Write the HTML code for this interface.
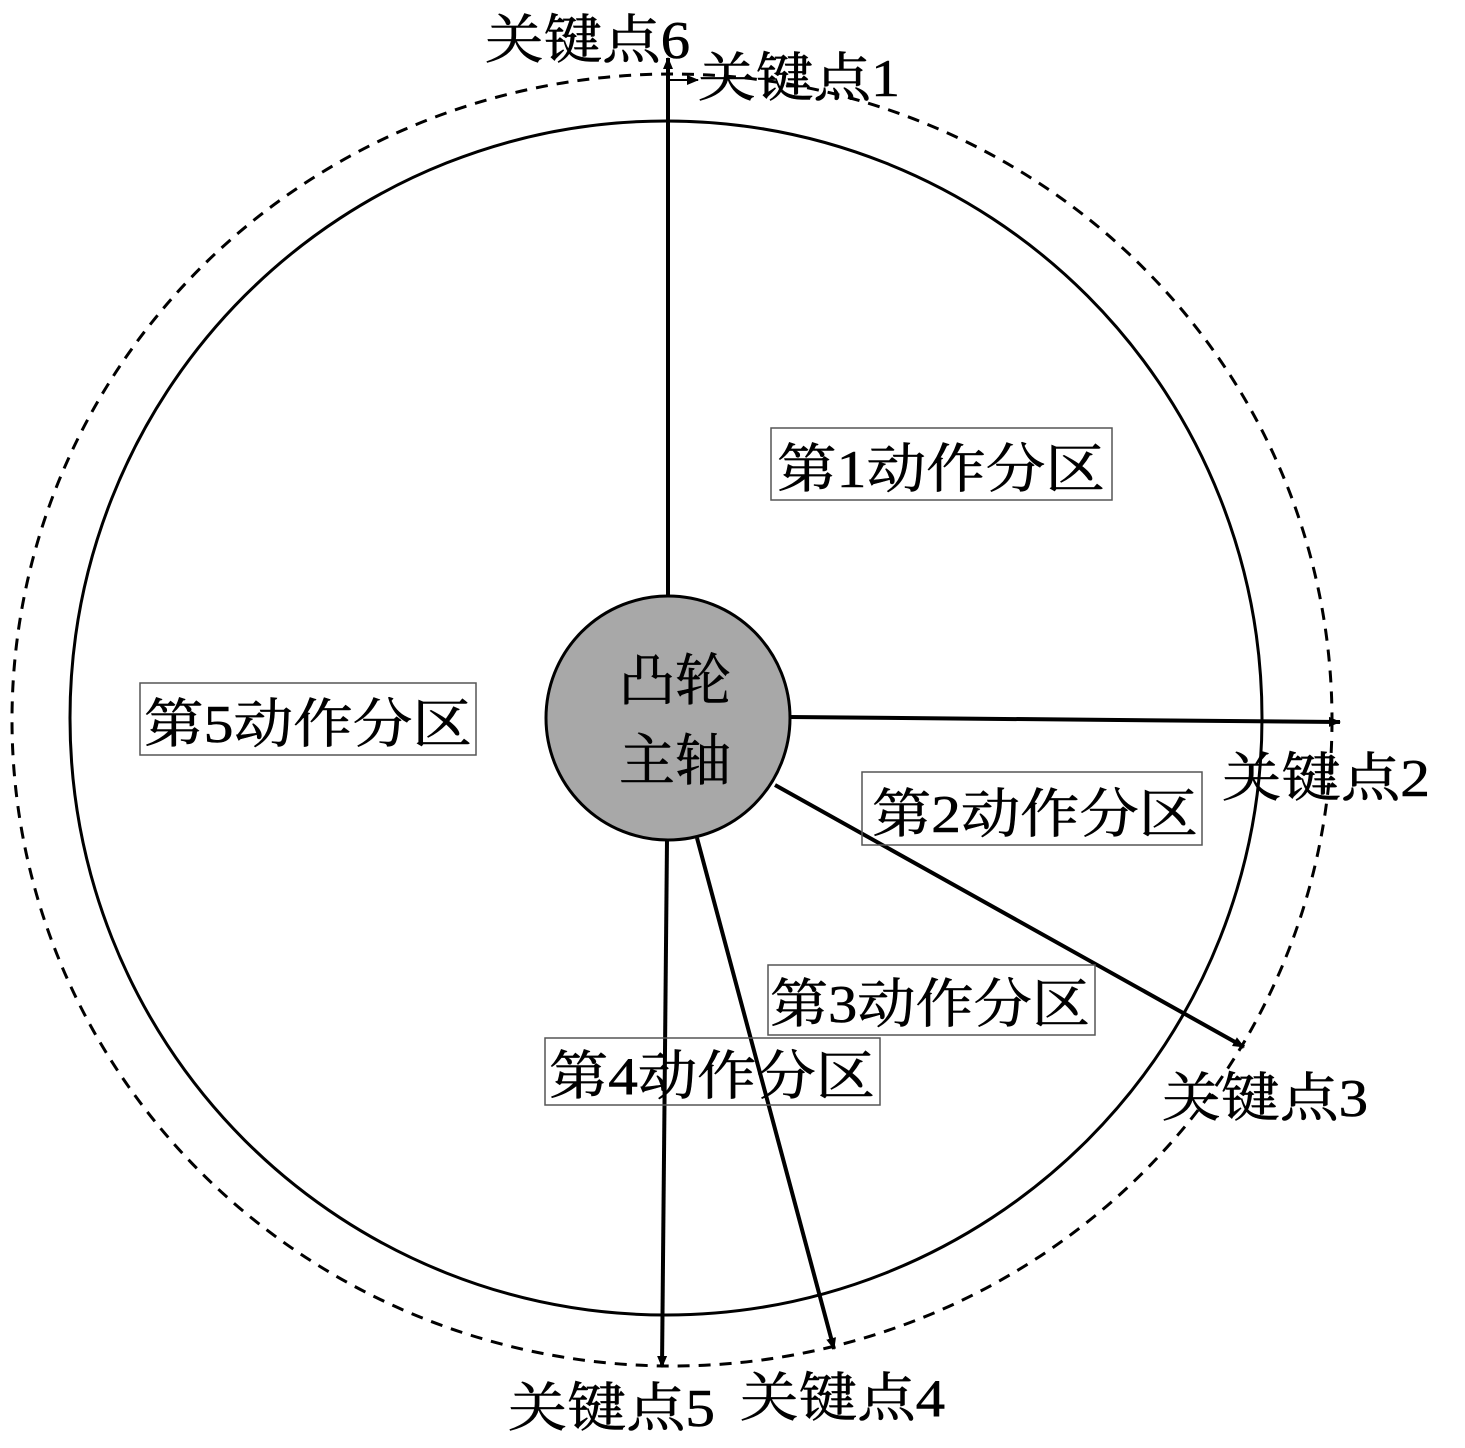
<!DOCTYPE html>
<html><head><meta charset="utf-8"><style>
html,body{margin:0;padding:0;background:#fff;}
svg text{font-family:"Liberation Serif","Noto Serif CJK SC",serif;fill:#000;stroke:#000;stroke-width:0.6;}
</style></head><body>
<svg width="1465" height="1443" viewBox="0 0 1465 1443" xmlns="http://www.w3.org/2000/svg">
<defs>
<marker id="a" markerWidth="14" markerHeight="14" refX="11" refY="7" orient="auto" markerUnits="userSpaceOnUse">
<path d="M0,2 L12,7 L0,12 Z" fill="#000"/></marker>
</defs>
<ellipse cx="672" cy="720" rx="660" ry="646" fill="none" stroke="#000" stroke-width="3" stroke-dasharray="12,9"/>
<ellipse cx="666" cy="718" rx="596" ry="597" fill="none" stroke="#000" stroke-width="3"/>
<line x1="668" y1="596" x2="668" y2="58" stroke="#000" stroke-width="4" marker-end="url(#a)"/>
<line x1="668" y1="80" x2="698" y2="80" stroke="#000" stroke-width="2" marker-end="url(#a)"/>
<line x1="789" y1="717" x2="1340" y2="722" stroke="#000" stroke-width="4" marker-end="url(#a)"/>
<line x1="775" y1="785" x2="1244" y2="1047" stroke="#000" stroke-width="4" marker-end="url(#a)"/>
<line x1="697" y1="838" x2="834" y2="1349" stroke="#000" stroke-width="4" marker-end="url(#a)"/>
<line x1="667" y1="840" x2="662" y2="1367" stroke="#000" stroke-width="4" marker-end="url(#a)"/>
<circle cx="668" cy="718" r="122" fill="#a8a8a8" stroke="#000" stroke-width="3"/>
<text x="675" y="700" font-size="56" text-anchor="middle">凸轮</text>
<text x="675" y="780" font-size="56" text-anchor="middle">主轴</text>
<g stroke="#555" stroke-width="1.5" fill="none">
<rect x="771" y="428" width="341" height="72"/>
<rect x="862" y="772" width="340" height="73"/>
<rect x="768" y="965" width="327" height="70"/>
<rect x="545" y="1038" width="335" height="67"/>
<rect x="140" y="683" width="336" height="72"/>
</g>
<g font-size="53">
<text x="777" y="487" textLength="328" lengthAdjust="spacingAndGlyphs">第1动作分区</text>
<text x="872" y="832" textLength="326" lengthAdjust="spacingAndGlyphs">第2动作分区</text>
<text x="770" y="1022" textLength="320" lengthAdjust="spacingAndGlyphs">第3动作分区</text>
<text x="549" y="1094" textLength="326" lengthAdjust="spacingAndGlyphs">第4动作分区</text>
<text x="144" y="742" textLength="328" lengthAdjust="spacingAndGlyphs">第5动作分区</text>
<text x="485" y="58" textLength="205" lengthAdjust="spacingAndGlyphs">关键点6</text>
<text x="698" y="96" textLength="202" lengthAdjust="spacingAndGlyphs">关键点1</text>
<text x="1222" y="796" textLength="208" lengthAdjust="spacingAndGlyphs">关键点2</text>
<text x="1162" y="1116" textLength="206" lengthAdjust="spacingAndGlyphs">关键点3</text>
<text x="508" y="1426" textLength="207" lengthAdjust="spacingAndGlyphs">关键点5</text>
<text x="740" y="1416" textLength="205" lengthAdjust="spacingAndGlyphs">关键点4</text>
</g>
</svg>
</body></html>
